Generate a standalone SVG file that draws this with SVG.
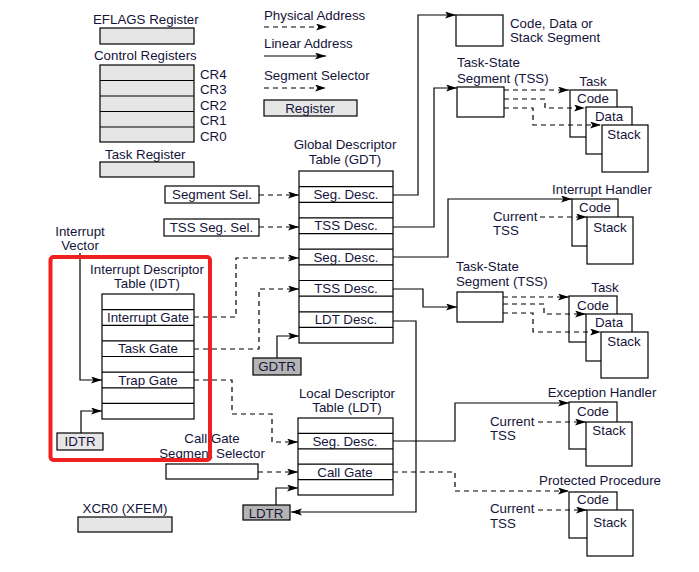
<svg xmlns="http://www.w3.org/2000/svg" width="699" height="572" viewBox="0 0 699 572">
<defs>
<marker id="ah" markerUnits="userSpaceOnUse" markerWidth="12" markerHeight="8" refX="11" refY="3.5" orient="auto">
<path d="M0,0 L11,3.5 L0,7 L2.5,3.5 z" fill="#000"/>
</marker>
<style>
text{font-family:"Liberation Sans",Arial,sans-serif;font-size:13.3px;fill:#14143a}
.c{text-anchor:middle}
.box{fill:#fff;stroke:#000;stroke-width:1.2}
.reg{fill:#e6e6e6;stroke:#000;stroke-width:1.2}
.dreg{fill:#b4b4b4;stroke:#000;stroke-width:1.2}
.ln{fill:none;stroke:#000;stroke-width:1.2}
.sol{fill:none;stroke:#000;stroke-width:1.2;marker-end:url(#ah)}
.dsh{fill:none;stroke:#000;stroke-width:1.2;stroke-dasharray:5,4;marker-end:url(#ah)}
</style>
</defs>

<g id="legend">
<text x="264" y="20">Physical Address</text>
<path class="dsh" d="M264,27 H327"/>
<text x="264" y="48">Linear Address</text>
<path class="sol" d="M264,56 H326"/>
<text x="264" y="80">Segment Selector</text>
<path class="dsh" d="M264,88 H326"/>
<rect class="reg" x="264" y="100" width="93" height="16"/>
<text class="c" x="310" y="113">Register</text>
</g>

<g id="eflags">
<text x="93" y="24">EFLAGS Register</text>
<rect class="reg" x="100" y="28" width="94" height="16"/>
</g>
<g id="control-registers">
<text x="94" y="60">Control Registers</text>
<rect class="reg" x="100" y="65" width="94" height="77"/>
<path class="ln" d="M100,80.5 H194 M100,96 H194 M100,111.5 H194 M100,127 H194"/>
<text x="200" y="78.5">CR4</text>
<text x="200" y="94">CR3</text>
<text x="200" y="109.5">CR2</text>
<text x="200" y="125">CR1</text>
<text x="200" y="140.5">CR0</text>
</g>
<g id="task-register">
<text x="105" y="158.5">Task Register</text>
<rect class="reg" x="100" y="162" width="94" height="15"/>
</g>

<g id="gdt">
<text class="c" x="345" y="148.5">Global Descriptor</text>
<text class="c" x="345" y="163.5">Table (GDT)</text>
<rect class="box" x="299" y="171" width="94" height="172"/>
<path class="ln" d="M299,186.6 H393 M299,202.3 H393 M299,217.9 H393 M299,233.6 H393 M299,249.2 H393 M299,264.8 H393 M299,280.5 H393 M299,296.1 H393 M299,311.8 H393 M299,327.4 H393"/>
<text class="c" x="346" y="199">Seg. Desc.</text>
<text class="c" x="346" y="230">TSS Desc.</text>
<text class="c" x="346" y="261.5">Seg. Desc.</text>
<text class="c" x="346" y="293">TSS Desc.</text>
<text class="c" x="346" y="324">LDT Desc.</text>
</g>
<g id="gdtr">
<rect class="dreg" x="253" y="358" width="48" height="17"/>
<text class="c" x="277" y="371">GDTR</text>
</g>

<g id="segment-sel">
<rect class="box" x="165" y="186" width="94" height="17"/>
<text class="c" x="212" y="199">Segment Sel.</text>
</g>
<g id="tss-seg-sel">
<rect class="box" x="164" y="219" width="95" height="17"/>
<text class="c" x="211.5" y="232">TSS Seg. Sel.</text>
</g>

<g id="idt">
<text class="c" x="147" y="273.5">Interrupt Descriptor</text>
<text class="c" x="147" y="287.5">Table (IDT)</text>
<rect class="box" x="102" y="294" width="92" height="125"/>
<path class="ln" d="M102,309.6 H194 M102,325.3 H194 M102,340.9 H194 M102,356.5 H194 M102,372.1 H194 M102,387.8 H194 M102,403.4 H194"/>
<text class="c" x="148" y="322">Interrupt Gate</text>
<text class="c" x="148" y="353">Task Gate</text>
<text class="c" x="148" y="384.5">Trap Gate</text>
</g>
<g id="interrupt-vector">
<text class="c" x="80" y="236">Interrupt</text>
<text class="c" x="80" y="250">Vector</text>
</g>
<g id="idtr">
<rect class="reg" x="57" y="433" width="46" height="17"/>
<text class="c" x="80" y="446">IDTR</text>
</g>

<g id="ldt">
<text class="c" x="347" y="397.5">Local Descriptor</text>
<text class="c" x="347" y="411.5">Table (LDT)</text>
<rect class="box" x="298" y="418" width="95" height="77"/>
<path class="ln" d="M298,433.4 H393 M298,448.8 H393 M298,464.2 H393 M298,479.6 H393"/>
<text class="c" x="345" y="445.5">Seg. Desc.</text>
<text class="c" x="345" y="476.5">Call Gate</text>
</g>
<g id="call-gate-selector">
<text class="c" x="212" y="443">Call Gate</text>
<text class="c" x="212" y="457.5">Segment Selector</text>
<rect class="box" x="166" y="464" width="92" height="15"/>
</g>
<g id="ldtr">
<rect class="dreg" x="243" y="505" width="47" height="15"/>
<text class="c" x="266" y="517.5">LDTR</text>
</g>

<g id="xcr0">
<text class="c" x="125" y="512.5">XCR0 (XFEM)</text>
<rect class="reg" x="78" y="517" width="94" height="15"/>
</g>

<g id="code-data-stack-segment">
<rect class="box" x="456" y="15" width="47" height="31"/>
<text x="510" y="27.5">Code, Data or</text>
<text x="510" y="42">Stack Segment</text>
</g>

<g id="tss-top">
<text x="457" y="66.5">Task-State</text>
<text x="457" y="82.5">Segment (TSS)</text>
<rect class="box" x="457" y="87" width="47" height="30"/>
</g>
<g id="task-top">
<text class="c" x="593" y="85.5">Task</text>
<rect class="box" x="570" y="90" width="47" height="47"/>
<rect class="box" x="586" y="107" width="46" height="47"/>
<rect class="box" x="602" y="125" width="46" height="47"/>
<text class="c" x="593" y="102.5">Code</text>
<text class="c" x="609" y="120.5">Data</text>
<text class="c" x="624" y="138.5">Stack</text>
</g>

<g id="interrupt-handler">
<text class="c" x="602" y="193.5">Interrupt Handler</text>
<rect class="box" x="572" y="199" width="46" height="47"/>
<rect class="box" x="587" y="217" width="46" height="47"/>
<text class="c" x="595" y="211.5">Code</text>
<text class="c" x="610" y="231.5">Stack</text>
<text x="493" y="220.5">Current</text>
<text x="493" y="235">TSS</text>
</g>

<g id="tss-lower">
<text x="456" y="271">Task-State</text>
<text x="456" y="285.5">Segment (TSS)</text>
<rect class="box" x="457" y="292" width="46" height="30"/>
</g>
<g id="task-lower">
<text class="c" x="605" y="291.5">Task</text>
<rect class="box" x="569" y="296" width="48" height="46"/>
<rect class="box" x="586" y="314" width="46" height="47"/>
<rect class="box" x="601" y="332" width="47" height="46"/>
<text class="c" x="593" y="309.5">Code</text>
<text class="c" x="609" y="326.5">Data</text>
<text class="c" x="624" y="345.5">Stack</text>
</g>

<g id="exception-handler">
<text class="c" x="602" y="396.5">Exception Handler</text>
<rect class="box" x="569" y="402" width="48" height="47"/>
<rect class="box" x="586" y="422" width="46" height="44"/>
<text class="c" x="593" y="415.5">Code</text>
<text class="c" x="609" y="434.5">Stack</text>
<text x="490" y="425.5">Current</text>
<text x="490" y="440">TSS</text>
</g>

<g id="protected-procedure">
<text class="c" x="600" y="484.5">Protected Procedure</text>
<rect class="box" x="569" y="492" width="48" height="46"/>
<rect class="box" x="587" y="510" width="46" height="46"/>
<text class="c" x="593" y="503.5">Code</text>
<text class="c" x="610" y="526.5">Stack</text>
<text x="490" y="512.5">Current</text>
<text x="490" y="527.5">TSS</text>
</g>

<g id="connectors">
<path class="dsh" d="M259,195 H299"/>
<path class="dsh" d="M259,227 H299"/>
<path class="sol" d="M393,195 H418 V15 H456"/>
<path class="sol" d="M393,227 H434 V88 H457"/>
<path class="sol" d="M393,257 H448 V199 H572"/>
<path class="sol" d="M393,289 H423 V307 H457"/>
<path class="sol" d="M393,321 H416 V512 H291"/>
<path class="sol" d="M277,358 V336 H299"/>
<path class="dsh" d="M194,317 H236 V258 H299"/>
<path class="dsh" d="M194,349 H259 V289 H299"/>
<path class="dsh" d="M194,380 H232 V414 H272 V442 H298"/>
<path class="sol" d="M80,253 V380 H102"/>
<path class="sol" d="M81,433 V411 H102"/>
<path class="dsh" d="M258,472 H298"/>
<path class="sol" d="M276,505 V488 H298"/>
<path class="sol" d="M393,441 H455 V403 H569"/>
<path class="dsh" d="M393,472 H455 V491 H569"/>
<path class="dsh" d="M504,90 H569"/>
<path class="dsh" d="M504,99 H545 V108 H585"/>
<path class="dsh" d="M504,108 H533 V125 H601"/>
<path class="dsh" d="M540,217 H587"/>
<path class="dsh" d="M503,297 H569"/>
<path class="dsh" d="M503,304 H544 V314 H586"/>
<path class="dsh" d="M503,313 H533 V332 H601"/>
<path class="dsh" d="M538,422 H586"/>
<path class="dsh" d="M538,510 H587"/>
</g>

<g id="highlight">
<rect x="50.5" y="257" width="159.5" height="203" rx="3" fill="none" stroke="#ee2020" stroke-width="4"/>
</g>
</svg>
